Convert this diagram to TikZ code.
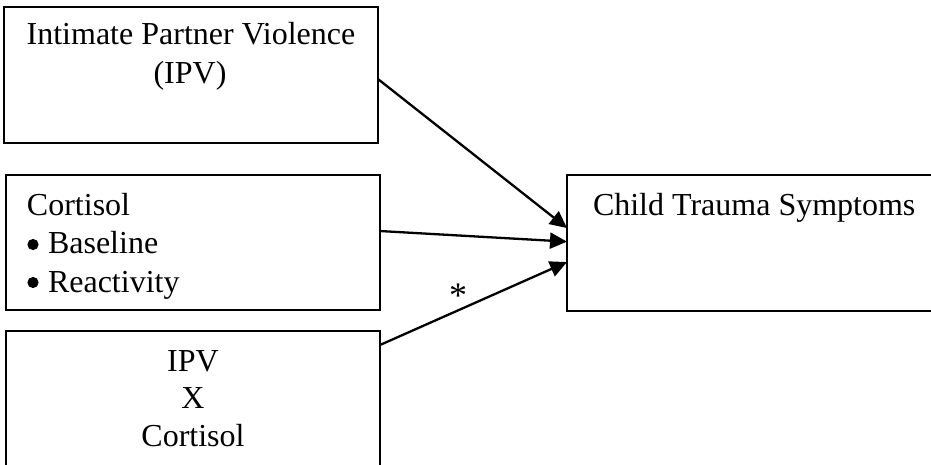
\documentclass[tikz,border=0pt]{standalone}
\usepackage{fontspec}
\setmainfont{Liberation Serif}
\usetikzlibrary{calc,arrows.meta}
\begin{document}
\begin{tikzpicture}[x=1pt,y=-1pt,
  box/.style={draw=black,line width=2.4pt,minimum width=#1,inner sep=0pt,outer sep=0pt},
  txt/.style={inner sep=0pt,outer sep=0pt,font=\fontsize{32}{38}\selectfont},
  arr/.style={line width=2.3pt,-{Triangle[length=17pt,width=16pt]}}]
\useasboundingbox (0,0) rectangle (931,465);
\clip (0,0) rectangle (931,465);
% boxes
\node[box=374pt,minimum height=136pt] (ipv) at (191,75) {};
\node[box=374pt,minimum height=135pt] (cort) at (193,242.5) {};
\node[box=374pt,minimum height=150pt] (inter) at (193,406) {};
\node[box=380pt,minimum height=136pt] (cts) at (757,243) {};
% texts
\node[txt,anchor=base] (t1a) at (191,45) {Intimate Partner Violence};
\node[txt,anchor=base] (t1b) at (190,84) {(IPV)};
\node[txt,anchor=base west] (t2a) at (27,215) {Cortisol};
\node[txt,anchor=base west] (t2b) at (48,253) {Baseline};
\node[txt,anchor=base west] (t2c) at (48,292) {Reactivity};
\node[txt,anchor=base] (t3a) at (193,371) {IPV};
\node[txt,anchor=base] (t3b) at (193,408) {X};
\node[txt,anchor=base] (t3c) at (193,446) {Cortisol};
\node[txt,anchor=base west] (t4) at (593,215) {Child Trauma Symptoms};
% bullets
\fill ($(t2b.base west)+(-15,-8.5)$) circle (5.6pt);
\fill ($(t2c.base west)+(-15,-9.5)$) circle (5.6pt);
% connectors
\coordinate (s1) at ($(ipv.north east)!0.53!(ipv.south east)$);
\coordinate (e1) at ($(cts.north west)!0.39!(cts.south west)$);
\coordinate (s2) at ($(cort.north east)!0.415!(cort.south east)$);
\coordinate (e2) at ($(cts.north west)!0.49!(cts.south west)$);
\coordinate (s3) at ($(inter.north east)+(0,14)$);
\coordinate (e3) at ($(cts.north west)!0.64!(cts.south west)$);
\draw[arr] (s1) -- (e1);
\draw[arr] (s2) -- (e2);
\draw[arr] (s3) -- (e3);
\node[txt,anchor=base,font=\fontsize{36}{38}\selectfont] (star) at (458,307) {*};
\end{tikzpicture}
\end{document}
